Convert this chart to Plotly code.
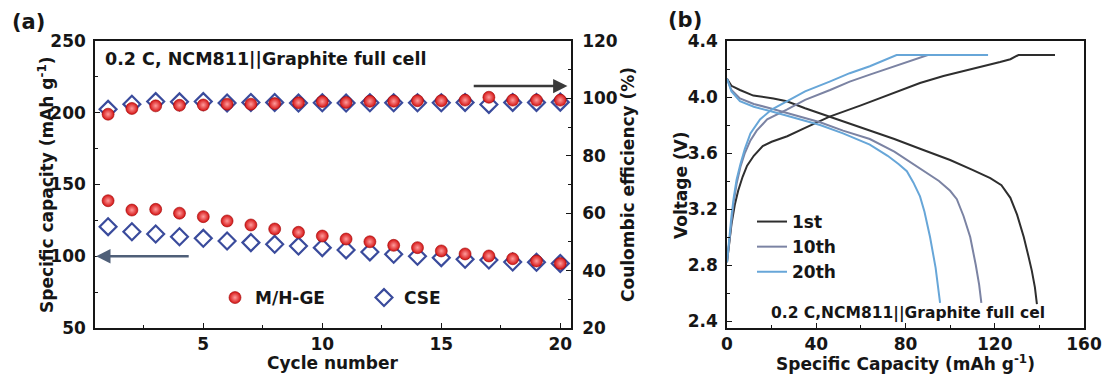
import plotly.graph_objects as go

# ---------------- (a) cycling of NCM811||Graphite full cells ----------------
cycles = list(range(1, 21))
cap_mhge = [138.7, 132.2, 132.7, 130.0, 127.6, 124.6, 121.8, 119.0, 116.7, 114.1,
            112.0, 110.1, 107.6, 106.0, 103.7, 101.6, 100.2, 98.3, 96.7, 95.0]
cap_cse = [120.6, 117.1, 115.5, 113.6, 112.5, 110.6, 109.5, 108.3, 107.1, 106.0,
           104.4, 103.0, 101.4, 100.0, 99.0, 97.9, 97.4, 96.0, 95.8, 95.0]
ce_mhge = [94.5, 96.5, 97.4, 97.6, 97.7, 98.0, 98.0, 98.2, 98.5, 98.9,
           98.6, 99.0, 99.0, 99.2, 99.2, 99.4, 100.4, 99.4, 99.4, 99.4]
ce_cse = [96.2, 98.0, 98.9, 98.8, 98.9, 98.4, 98.6, 98.6, 98.4, 98.5,
          98.4, 98.5, 98.5, 98.5, 98.5, 98.6, 97.9, 98.6, 98.6, 98.7]

# ---------------- (b) charge/discharge profiles ----------------
c1_chg_cap = [0, 1, 2, 3.5, 5, 7, 9, 12, 16, 20, 27, 35, 46, 60, 75, 86.5, 97, 107.5,
              115, 122.4, 127, 130.6, 147]
c1_chg_v = [2.82, 2.96, 3.09, 3.23, 3.33, 3.43, 3.51, 3.58, 3.65, 3.68, 3.72, 3.78,
            3.86, 3.94, 4.03, 4.10, 4.15, 4.19, 4.22, 4.25, 4.27, 4.30, 4.30]
c1_dis_cap = [0, 2, 5.8, 11.8, 20.8, 26.8, 35, 46, 60, 75, 86.5, 100, 110, 118, 123,
              127, 130, 133, 135, 136.6, 138, 138.9]
c1_dis_v = [4.13, 4.08, 4.05, 4.01, 3.99, 3.97, 3.92, 3.86, 3.78, 3.70, 3.63, 3.55,
            3.48, 3.42, 3.37, 3.28, 3.16, 3.00, 2.87, 2.76, 2.64, 2.52]

c10_chg_cap = [0, 1, 2, 3, 4.3, 6, 8, 10.5, 13.3, 18, 26.8, 35, 46.2, 55, 64, 75,
               86.5, 90, 115]
c10_chg_v = [2.82, 2.98, 3.12, 3.25, 3.38, 3.50, 3.60, 3.69, 3.76, 3.84, 3.91, 3.98,
             4.05, 4.11, 4.16, 4.22, 4.28, 4.30, 4.30]
c10_dis_cap = [0, 2, 5.8, 12, 19.3, 30, 41.7, 52, 64, 75, 86.5, 95, 100, 103, 106,
               109, 111.5, 113, 114]
c10_dis_v = [4.13, 4.05, 3.99, 3.95, 3.92, 3.87, 3.82, 3.76, 3.70, 3.61, 3.49, 3.40,
             3.33, 3.27, 3.15, 3.00, 2.80, 2.66, 2.53]

c20_chg_cap = [0, 1, 2, 3, 4.3, 6, 8, 10.5, 14.8, 20, 26.8, 35, 46, 55, 64, 70, 74.6,
               76, 117]
c20_chg_v = [2.82, 3.00, 3.15, 3.28, 3.41, 3.52, 3.63, 3.74, 3.84, 3.91, 3.97, 4.04,
             4.11, 4.17, 4.22, 4.26, 4.29, 4.30, 4.30]
c20_dis_cap = [0, 2, 5.8, 12, 19.3, 30, 41.7, 52, 64, 72, 77, 80.6, 83.5, 86.5, 88.5,
               91, 93.5, 95.5]
c20_dis_v = [4.13, 4.04, 3.97, 3.93, 3.90, 3.85, 3.80, 3.74, 3.66, 3.58, 3.52, 3.47,
             3.39, 3.29, 3.18, 3.00, 2.78, 2.53]

FONT = "DejaVu Sans"
INK = "#161616"
W, H = 1104, 378


def px_x(p):
    return p / W


def px_y(p):
    return 1 - p / H


fig = go.Figure()

# capacity (left axis) and coulombic efficiency (right axis)
diamond = dict(symbol="diamond-open", size=13, color="#3a4b9c", line=dict(width=2.2, color="#3a4b9c"))
sphere = dict(symbol="circle", size=12, color="#d41212",
              gradient=dict(type="radial", color="#ff9c9c"),
              line=dict(width=0.6, color="#a00808"))

fig.add_trace(go.Scatter(x=cycles, y=cap_cse, mode="markers", marker=diamond,
                         name="CSE", legend="legend", xaxis="x", yaxis="y"))
fig.add_trace(go.Scatter(x=cycles, y=ce_cse, mode="markers", marker=diamond,
                         name="CSE", showlegend=False, xaxis="x", yaxis="y2"))
fig.add_trace(go.Scatter(x=cycles, y=cap_mhge, mode="markers", marker=sphere,
                         name="M/H-GE", legend="legend", xaxis="x", yaxis="y"))
fig.add_trace(go.Scatter(x=cycles, y=ce_mhge, mode="markers", marker=sphere,
                         name="M/H-GE", showlegend=False, xaxis="x", yaxis="y2"))

# voltage profiles: charge and discharge of each cycle in one trace
profiles = [
    ("1st", "#2e2e2e", c1_chg_cap, c1_chg_v, c1_dis_cap, c1_dis_v),
    ("10th", "#7b83a3", c10_chg_cap, c10_chg_v, c10_dis_cap, c10_dis_v),
    ("20th", "#67a6d8", c20_chg_cap, c20_chg_v, c20_dis_cap, c20_dis_v),
]
for name, col, qc, vc, qd, vd in profiles:
    fig.add_trace(go.Scatter(x=qc + [None] + qd, y=vc + [None] + vd, mode="lines",
                             line=dict(color=col, width=2), name=name,
                             legend="legend2", xaxis="x2", yaxis="y3"))

tickfont = dict(family=FONT, size=17, color=INK, weight="bold")
axis_common = dict(showline=True, linecolor=INK, linewidth=1.6, ticks="inside",
                   ticklen=5, tickwidth=1.4, tickcolor=INK, showgrid=False,
                   zeroline=False, tickfont=tickfont, automargin=False)

fig.update_layout(
    template="none",
    width=W, height=H,
    margin=dict(l=0, r=0, t=0, b=0, autoexpand=False),
    paper_bgcolor="white", plot_bgcolor="white",
    font=dict(family=FONT, color=INK),
    xaxis=dict(domain=[px_x(95), px_x(571)], range=[0.45, 20.45], tick0=0, dtick=5,
               minor=dict(dtick=2.5, ticks="inside", ticklen=3, tickcolor=INK),
               mirror=True, anchor="y", ticklabelstandoff=0, **axis_common),
    yaxis=dict(domain=[px_y(328), px_y(41)], range=[50, 250], dtick=50,
               minor=dict(dtick=25, ticks="inside", ticklen=3, tickcolor=INK),
               anchor="x", ticklabelstandoff=4, **axis_common),
    yaxis2=dict(domain=[px_y(328), px_y(41)], range=[20, 120], dtick=20,
                minor=dict(dtick=10, ticks="inside", ticklen=3, tickcolor=INK),
                overlaying="y", side="right", anchor="x", ticklabelstandoff=6,
                **axis_common),
    xaxis2=dict(domain=[px_x(727), px_x(1084)], range=[0, 160], dtick=40,
                minor=dict(dtick=20, ticks="inside", ticklen=3, tickcolor=INK),
                mirror=True, anchor="y3", ticklabelstandoff=0, **axis_common),
    yaxis3=dict(domain=[px_y(328), px_y(41)], range=[2.35, 4.4], tick0=2.4, dtick=0.4,
                tickformat=".1f",
                minor=dict(dtick=0.2, ticks="inside", ticklen=3, tickcolor=INK),
                mirror=True, anchor="x2", ticklabelstandoff=4, **axis_common),
    legend=dict(orientation="h", x=px_x(215), y=px_y(298), xanchor="left",
                yanchor="middle", entrywidth=104, entrywidthmode="pixels",
                bgcolor="rgba(0,0,0,0)", traceorder="reversed",
                font=dict(family=FONT, size=17, color=INK, weight="bold")),
    legend2=dict(orientation="v", x=px_x(752), y=px_y(247), xanchor="left",
                 yanchor="middle", tracegroupgap=0, bgcolor="rgba(0,0,0,0)",
                 font=dict(family=FONT, size=17, color=INK, weight="bold")),
)

ann = []


def text(x, y, s, size=17, angle=0, xanchor="center"):
    ann.append(dict(x=px_x(x), y=px_y(y), xref="paper", yref="paper", text=s,
                    showarrow=False, textangle=angle, xanchor=xanchor, yanchor="middle",
                    font=dict(family=FONT, size=size, color=INK, weight="bold")))


text(10, 22, "(a)", size=21, xanchor="left")
text(666, 20, "(b)", size=21, xanchor="left")
text(103, 59, "0.2 C, NCM811||Graphite full cell", size=17.5, xanchor="left")
text(908, 313, "0.2 C,NCM811||Graphite full cel", size=15.5)
text(46, 185, "Specific capacity (mAh g<sup>-1</sup>)", size=17, angle=-90)
text(628, 185, "Coulombic efficiency (%)", size=17, angle=-90)
text(333, 363, "Cycle number", size=17)
text(681, 185, "Voltage (V)", size=17, angle=-90)
text(905, 363, "Specific Capacity (mAh g<sup>-1</sup>)", size=17)

# arrows pointing to the axis each series belongs to
ann.append(dict(x=0.5, y=100, xref="x", yref="y", ax=4.45, ay=100, axref="x", ayref="y",
                text="", showarrow=True, arrowhead=2, arrowsize=1.1, arrowwidth=2.6,
                arrowcolor="#4f5f78"))
ann.append(dict(x=20.3, y=104.3, xref="x", yref="y2", ax=16.3, ay=104.3, axref="x",
                ayref="y2", text="", showarrow=True, arrowhead=2, arrowsize=1.1,
                arrowwidth=2.6, arrowcolor="#3a3a3a"))

fig.update_layout(annotations=ann)
fig.write_html("out.html")
